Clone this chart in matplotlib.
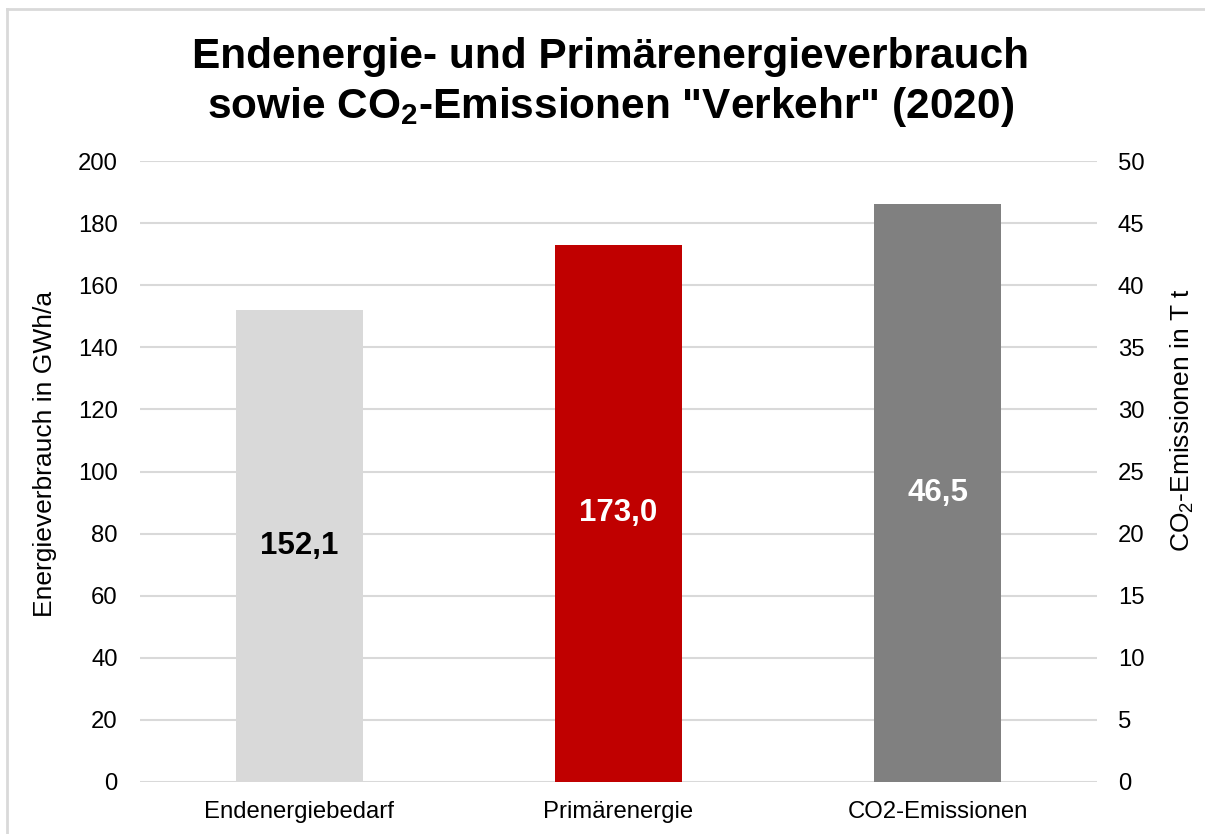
import matplotlib
matplotlib.use("Agg")
import matplotlib.pyplot as plt
from matplotlib.lines import Line2D

plt.rcParams['font.family'] = ['Liberation Sans', 'DejaVu Sans']
plt.rcParams['mathtext.fontset'] = 'custom'
plt.rcParams['mathtext.rm'] = 'Liberation Sans'
plt.rcParams['mathtext.bf'] = 'Liberation Sans:bold'
plt.rcParams['mathtext.it'] = 'Liberation Sans:italic'

categories = ["Endenergiebedarf", "Primärenergie", "CO2-Emissionen"]
energy_values = [152.1, 173.0]          # GWh/a (left axis)
co2_values = [46.5]                      # T t (right axis)
value_labels = ["152,1", "173,0", "46,5"]
bar_colors = ["#D9D9D9", "#C00000", "#808080"]
label_colors = ["#000000", "#FFFFFF", "#FFFFFF"]
left_ticks = list(range(0, 201, 20))
right_ticks = list(range(0, 51, 5))

W, H = 1205, 834
fig = plt.figure(figsize=(W/100, H/100), dpi=100)
ax = fig.add_axes([140/W, 1-782/H, (1097-140)/W, (782-161)/H])
ax2 = ax.twinx()

x = list(range(len(categories)))
w = 0.4
ax.bar(x[:2], energy_values, width=w, color=bar_colors[:2], zorder=3)
ax2.bar(x[2:], co2_values, width=w, color=bar_colors[2], zorder=3)

ax.set_ylim(0, 200)
ax2.set_ylim(0, 50)
ax.set_xlim(-0.5, 2.5)
ax.set_yticks(left_ticks)
ax2.set_yticks(right_ticks)
ax.set_xticks(x)
ax.set_xticklabels(categories)

for a in (ax, ax2):
    for s in a.spines.values():
        s.set_visible(False)
    a.tick_params(length=0, labelsize=17.2, colors="#000000")
ax.tick_params(axis='y', pad=16)
ax2.tick_params(axis='y', pad=15)
ax.tick_params(axis='x', pad=14)
ax.grid(axis='y', color="#D9D9D9", linewidth=1.5, zorder=0)
ax.set_axisbelow(True)

for i, v in enumerate(energy_values):
    ax.text(i, v/2, value_labels[i], ha='center', va='center', fontsize=22.5,
            fontweight='bold', color=label_colors[i], zorder=5)
for j, v in enumerate(co2_values):
    i = 2 + j
    ax2.text(i, v/2, value_labels[i], ha='center', va='center', fontsize=22.5,
             fontweight='bold', color=label_colors[i], zorder=5)

fig.text(45/W, 1-454/H, "Energieverbrauch in GWh/a", rotation=90,
         ha='center', va='center', fontsize=19, rotation_mode='anchor')
fig.text(1182/W, 1-420/H, r"CO$_\mathrm{2}$-Emissionen in T t", rotation=90,
         ha='center', va='center', fontsize=19, rotation_mode='anchor')

fig.text(611/W, 1-68/H, "Endenergie- und Primärenergieverbrauch",
         ha='center', va='baseline', fontsize=30.5, fontweight='bold')
fig.text(611/W, 1-118/H, 'sowie CO$_\\mathbf{2}$-Emissionen "Verkehr" (2020)',
         ha='center', va='baseline', fontsize=30.5, fontweight='bold')

# figure border (left and top)
fig.add_artist(Line2D([7/W, 7/W], [0, 1-9/H], transform=fig.transFigure,
                      color="#D9D9D9", linewidth=2))
fig.add_artist(Line2D([7/W, 1], [1-9/H, 1-9/H], transform=fig.transFigure,
                      color="#D9D9D9", linewidth=2))

fig.savefig("out.png", dpi=100)
